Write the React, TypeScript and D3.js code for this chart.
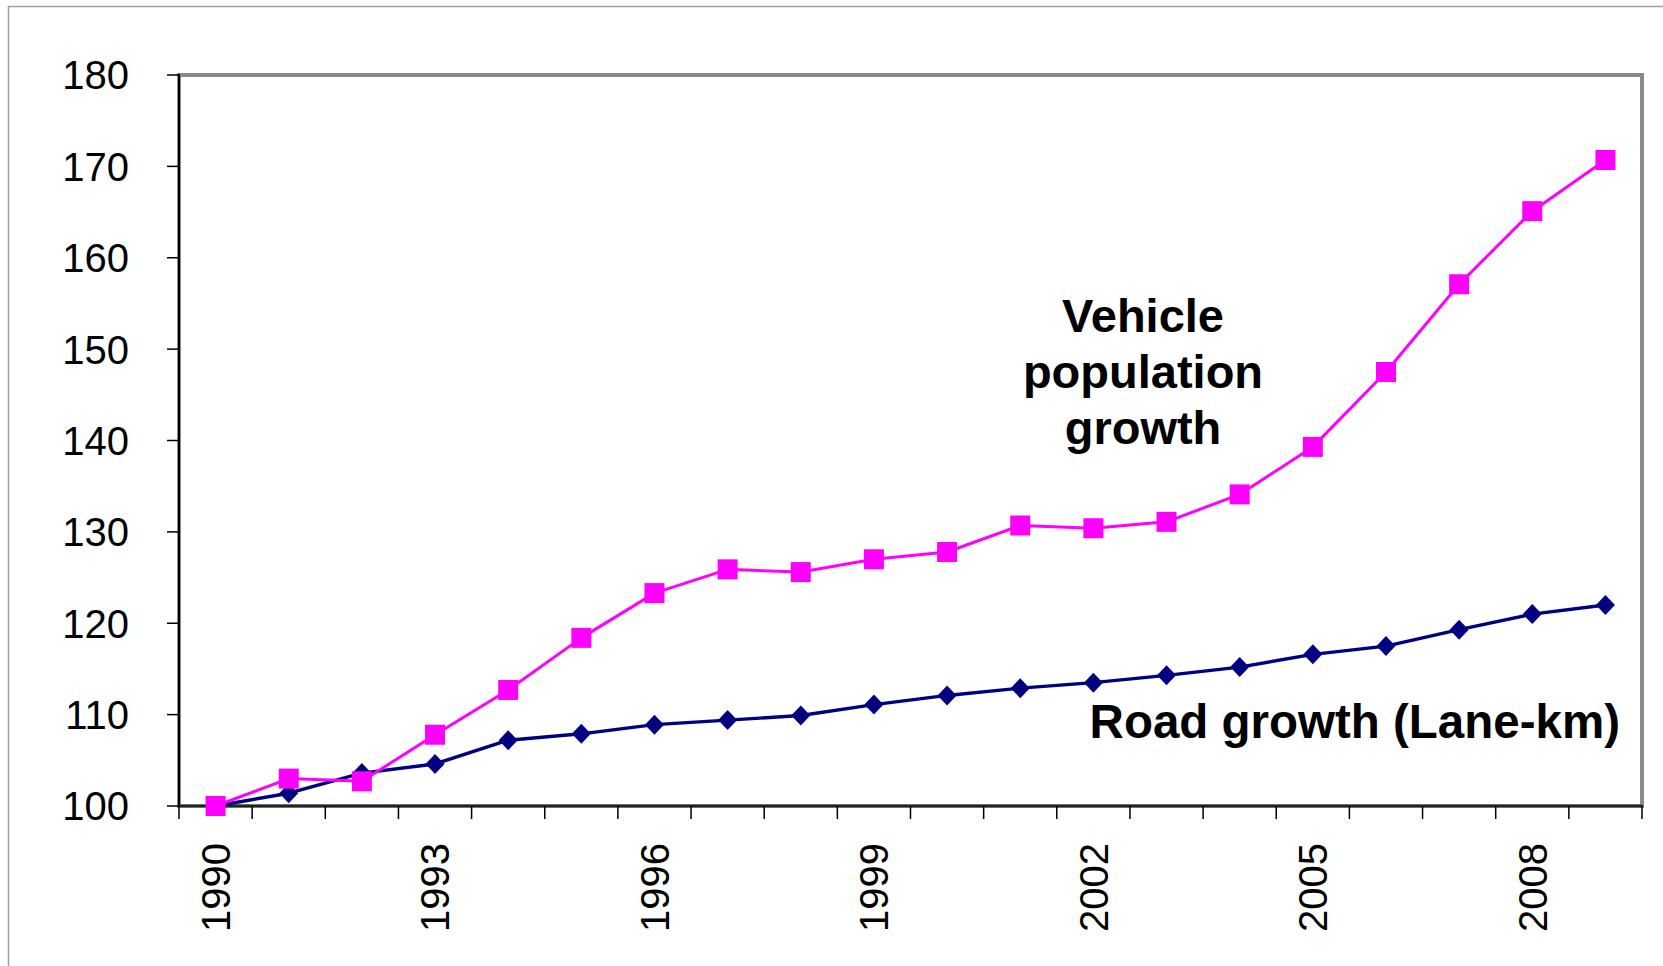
import React from "react";
import * as d3 from "d3";

const years: string[] = [
  "1990", "1991", "1992", "1993", "1994", "1995", "1996", "1997", "1998", "1999",
  "2000", "2001", "2002", "2003", "2004", "2005", "2006", "2007", "2008", "2009",
];
const vehicleGrowth: number[] = [
  100, 103.0, 102.7, 107.8, 112.7, 118.4, 123.3, 125.9, 125.6, 127.0,
  127.8, 130.7, 130.4, 131.1, 134.1, 139.3, 147.5, 157.1, 165.1, 170.7,
];
const roadGrowth: number[] = [
  100, 101.4, 103.6, 104.6, 107.2, 107.9, 108.9, 109.4, 109.9, 111.1,
  112.1, 112.9, 113.5, 114.3, 115.2, 116.6, 117.5, 119.3, 121.0, 122.0,
];
const yTicks: number[] = [100, 110, 120, 130, 140, 150, 160, 170, 180];
const xLabels: string[] = ["1990", "1993", "1996", "1999", "2002", "2005", "2008"];
const vehicleLabel: string[] = ["Vehicle", "population", "growth"];
const roadLabel = "Road growth (Lane-km)";

const W = 1663;
const H = 966;
const L = 179;
const R = 1642;
const T = 75;
const B = 806;
const FONT = "'Liberation Sans', Arial, Helvetica, sans-serif";

export default function App() {
  const x = d3.scaleBand<string>().domain(years).range([L, R]).padding(0);
  const y = d3.scaleLinear().domain([100, 180]).range([B, T]);
  const cx = (yr: string) => (x(yr) as number) + x.bandwidth() / 2;

  const lineGen = d3
    .line<number>()
    .x((_, i) => cx(years[i]))
    .y((v) => y(v));

  const square = d3.symbol().type(d3.symbolSquare).size(400)() as string;
  const diamond = "M0,-10L9.5,0L0,10L-9.5,0Z";

  const boundaries = years.map((yr) => x(yr) as number).concat([R]);

  return (
    <svg
      width={W}
      height={H}
      viewBox={`0 0 ${W} ${H}`}
      style={{ position: "absolute", left: 0, top: 0, display: "block", background: "#fff" }}
      fontFamily={FONT}
    >
      <rect x={0} y={0} width={W} height={H} fill="#ffffff" />
      {/* outer frame */}
      <path d={`M8.5,${H}V6.5H${W}`} fill="none" stroke="#a0a0a0" strokeWidth={1.5} />

      {/* plot area border */}
      <rect x={L} y={T} width={R - L} height={B - T} fill="#ffffff" stroke="#8a8a8a" strokeWidth={4} />

      {/* axes */}
      <line x1={L} y1={T - 1} x2={L} y2={B} stroke="#000" strokeWidth={2} />
      <line x1={L} y1={B} x2={R + 1} y2={B} stroke="#222" strokeWidth={2.5} />

      {/* y ticks and labels */}
      {yTicks.map((t) => (
        <g key={`y${t}`}>
          <line x1={L - 12} x2={L} y1={y(t)} y2={y(t)} stroke="#000" strokeWidth={1.5} />
          <text x={129} y={y(t)} dy="0.36em" textAnchor="end" fontSize={40} fill="#000">
            {t}
          </text>
        </g>
      ))}

      {/* x ticks */}
      {boundaries.map((bx, i) => (
        <line key={`xt${i}`} x1={bx} x2={bx} y1={B} y2={B + 13} stroke="#000" strokeWidth={1.5} />
      ))}

      {/* x labels */}
      {xLabels.map((yr) => (
        <text
          key={`xl${yr}`}
          transform={`translate(${cx(yr)},843) rotate(-90)`}
          dy="0.36em"
          textAnchor="end"
          fontSize={40}
          fill="#000"
        >
          {yr}
        </text>
      ))}

      {/* road series */}
      <path d={lineGen(roadGrowth) as string} fill="none" stroke="#000080" strokeWidth={3.4} strokeLinejoin="round" />
      {roadGrowth.map((v, i) => (
        <path key={`rd${i}`} d={diamond} transform={`translate(${cx(years[i])},${y(v)})`} fill="#000080" />
      ))}

      {/* vehicle series */}
      <path d={lineGen(vehicleGrowth) as string} fill="none" stroke="#ff00ff" strokeWidth={3} strokeLinejoin="round" />
      {vehicleGrowth.map((v, i) => (
        <path key={`vh${i}`} d={square} transform={`translate(${cx(years[i])},${y(v)})`} fill="#ff00ff" />
      ))}

      {/* annotations */}
      {vehicleLabel.map((s, i) => (
        <text
          key={`vl${i}`}
          x={1143}
          y={332 + i * 56}
          textAnchor="middle"
          fontSize={47}
          fontWeight="bold"
          fill="#000"
        >
          {s}
        </text>
      ))}
      <text x={1620} y={738} textAnchor="end" fontSize={47.5} fontWeight="bold" fill="#000">
        {roadLabel}
      </text>
    </svg>
  );
}
